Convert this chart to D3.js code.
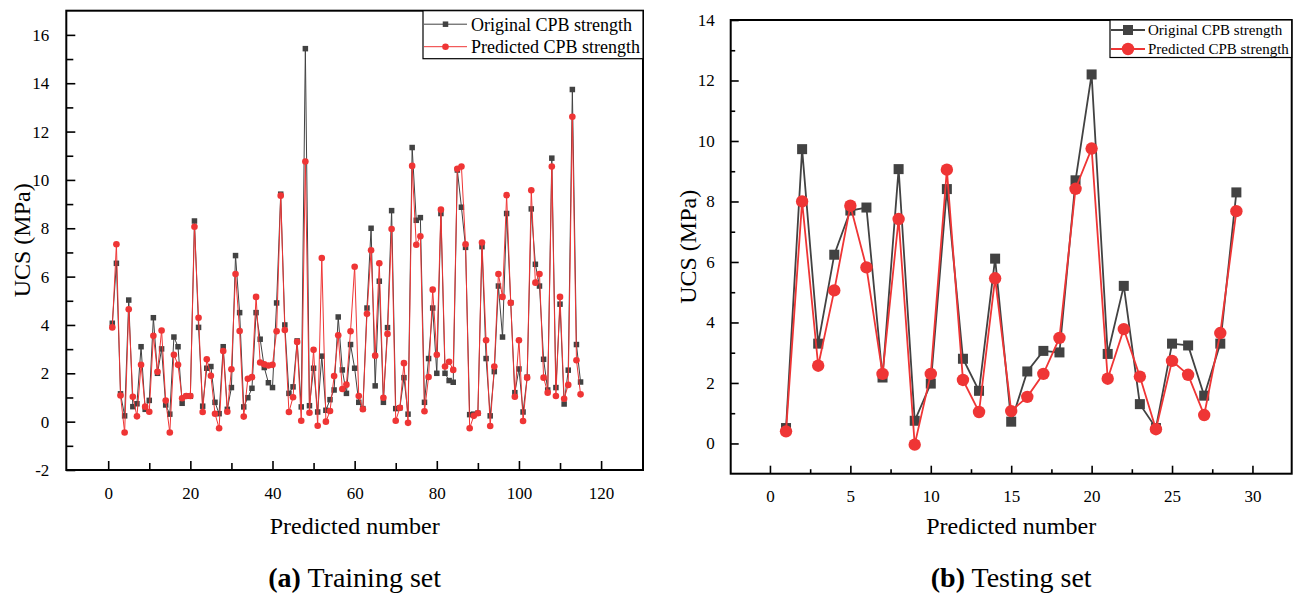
<!DOCTYPE html>
<html>
<head>
<meta charset="utf-8">
<script src="https://cdn.jsdelivr.net/npm/d3@7/dist/d3.min.js"></script>
<style>
  html, body { margin: 0; padding: 0; background: #fff; }
  svg text { font-family: "Liberation Serif", "Times New Roman", Times, serif; }
</style>
</head>
<body>
<svg id="chart" width="1299" height="595"></svg>
<script>
// Training set: original vs predicted CPB strength (MPa), samples 1..115
const trainOriginal = [
  4.07, 6.55, 1.15, 0.24, 5.03, 0.62, 0.74, 3.10, 0.51, 0.88,
  4.30, 2.00, 3.01, 0.69, 0.31, 3.50, 3.10, 0.76, 1.05, 1.05,
  8.30, 3.90, 0.64, 2.21, 2.28, 0.80, 0.33, 3.10, 0.51, 1.41,
  6.87, 4.51, 0.61, 0.99, 1.38, 4.51, 3.41, 2.24, 1.61, 1.41,
  4.91, 9.41, 4.00, 1.17, 1.44, 3.34, 0.61, 15.43, 0.66, 2.21,
  0.40, 2.71, 0.47, 0.91, 1.31, 4.33, 2.14, 1.17, 3.19, 2.21,
  0.80, 0.54, 4.70, 8.00, 1.48, 5.81, 0.80, 3.89, 8.73, 0.54,
  0.57, 1.82, 0.31, 11.34, 8.33, 8.44, 0.80, 2.61, 4.70, 2.00,
  8.61, 2.00, 1.70, 1.63, 10.41, 8.87, 7.21, 0.29, 0.31, 0.35,
  7.24, 2.61, 0.24, 2.07, 5.61, 3.50, 8.61, 4.92, 1.20, 2.18,
  0.40, 1.84, 8.80, 6.51, 5.61, 2.58, 1.31, 10.90, 1.41, 4.86,
  0.73, 2.13, 13.74, 3.19, 1.64
];
const trainPredicted = [
  3.90, 7.34, 1.08, -0.45, 4.65, 1.03, 0.22, 2.35, 0.62, 0.41,
  3.55, 2.06, 3.77, 0.87, -0.45, 2.77, 2.35, 0.97, 1.06, 1.06,
  8.06, 4.30, 0.40, 2.58, 1.90, 0.33, -0.27, 2.92, 0.41, 2.17,
  6.11, 3.75, 0.21, 1.77, 1.84, 5.16, 2.45, 2.37, 2.32, 2.35,
  3.74, 9.35, 3.79, 0.40, 1.01, 3.30, 0.04, 10.76, 0.37, 2.97,
  -0.17, 6.77, 0.00, 0.44, 1.89, 3.57, 1.35, 1.53, 3.74, 6.41,
  1.06, 0.51, 4.46, 7.09, 2.73, 6.55, 0.99, 3.63, 7.97, 0.04,
  0.57, 2.42, -0.05, 10.58, 7.32, 7.67, 0.43, 1.85, 5.46, 2.77,
  8.77, 2.28, 2.48, 2.14, 10.46, 10.55, 7.34, -0.27, 0.24, 0.35,
  7.41, 3.37, -0.18, 2.28, 6.11, 5.16, 9.37, 4.92, 1.03, 3.37,
  0.03, 1.82, 9.57, 5.75, 6.11, 1.82, 1.20, 10.55, 1.06, 5.16,
  0.95, 1.52, 12.61, 2.54, 1.13
];

// Testing set: samples 1..29
const testOriginal = [
  0.51, 9.73, 3.30, 6.24, 7.70, 7.80, 2.18, 9.07, 0.75, 1.98,
  8.41, 2.80, 1.74, 6.11, 0.72, 2.38, 3.06, 3.01, 8.70, 12.20,
  2.96, 5.21, 1.30, 0.51, 3.30, 3.24, 1.58, 3.30, 8.30
];
const testPredicted = [
  0.40, 8.00, 2.57, 5.06, 7.86, 5.82, 2.30, 7.42, -0.04, 2.30,
  9.05, 2.10, 1.04, 5.46, 1.07, 1.54, 2.30, 3.49, 8.42, 9.75,
  2.14, 3.78, 2.21, 0.47, 2.73, 2.27, 0.94, 3.65, 7.68
];

// Axis tick values
const trainXTicks = [0, 20, 40, 60, 80, 100, 120];
const trainXMinor = [10, 30, 50, 70, 90, 110];
const trainYTicks = [-2, 0, 2, 4, 6, 8, 10, 12, 14, 16];
const trainYMinor = [-1, 1, 3, 5, 7, 9, 11, 13, 15];
const testXTicks = [0, 5, 10, 15, 20, 25, 30];
const testXMinor = [2.5, 7.5, 12.5, 17.5, 22.5, 27.5];
const testYTicks = [0, 2, 4, 6, 8, 10, 12, 14];
const testYMinor = [1, 3, 5, 7, 9, 11, 13];

const seriesNames = ["Original CPB strength", "Predicted CPB strength"];
const GRAY = "#424242";
const RED = "#ef3535";
const SERIF = '"Liberation Serif", "Times New Roman", Times, serif';

const svg = d3.select("#chart");

function drawPanel(cfg) {
  const g = svg.append("g");
  const x = d3.scaleLinear().domain(cfg.xDomain).range([cfg.left, cfg.right]);
  const y = d3.scaleLinear().domain(cfg.yDomain).range([cfg.bottom, cfg.top]);
  const fmt = d => String(d);

  // major + minor ticks on bottom and left, pointing inward
  const xMajor = d3.axisBottom(x).tickValues(cfg.xTicks).tickSize(-cfg.tickMajor).tickPadding(cfg.tickMajor + 8).tickFormat(fmt);
  const xMinor = d3.axisBottom(x).tickValues(cfg.xMinor).tickSize(-cfg.tickMinor).tickFormat("");
  const yMajor = d3.axisLeft(y).tickValues(cfg.yTicks).tickSize(-cfg.tickMajor).tickPadding(cfg.tickMajor + 8).tickFormat(fmt);
  const yMinor = d3.axisLeft(y).tickValues(cfg.yMinor).tickSize(-cfg.tickMinor).tickFormat("");

  [xMajor, xMinor].forEach(ax => {
    g.append("g").attr("transform", `translate(0,${cfg.bottom})`).call(ax)
      .attr("font-family", SERIF).attr("font-size", 17)
      .call(s => s.select(".domain").remove());
  });
  [yMajor, yMinor].forEach(ax => {
    g.append("g").attr("transform", `translate(${cfg.left},0)`).call(ax)
      .attr("font-family", SERIF).attr("font-size", 17)
      .call(s => s.select(".domain").remove());
  });
  g.selectAll(".tick line").attr("stroke", "#000").attr("stroke-width", 1.6);
  g.selectAll(".tick text").attr("fill", "#000")
    .attr("font-family", SERIF).style("font-size", "17px");

  // plot frame
  g.append("rect")
    .attr("x", cfg.left).attr("y", cfg.top)
    .attr("width", cfg.right - cfg.left).attr("height", cfg.bottom - cfg.top)
    .attr("fill", "none").attr("stroke", "#000").attr("stroke-width", 2);

  const idx = d3.range(1, cfg.original.length + 1);
  const line = d3.line().x((d, i) => x(idx[i])).y(d => y(d));

  // original series (dark squares)
  g.append("path").datum(cfg.original).attr("d", line)
    .attr("fill", "none").attr("stroke", GRAY).attr("stroke-width", cfg.lineW);
  g.append("g").selectAll("rect").data(cfg.original).join("rect")
    .attr("x", (d, i) => x(idx[i]) - cfg.sq / 2)
    .attr("y", d => y(d) - cfg.sq / 2)
    .attr("width", cfg.sq).attr("height", cfg.sq)
    .attr("fill", GRAY);

  // predicted series (red circles)
  g.append("path").datum(cfg.predicted).attr("d", line)
    .attr("fill", "none").attr("stroke", RED).attr("stroke-width", cfg.lineW);
  g.append("g").selectAll("circle").data(cfg.predicted).join("circle")
    .attr("cx", (d, i) => x(idx[i]))
    .attr("cy", d => y(d))
    .attr("r", cfg.cr)
    .attr("fill", RED);

  // legend
  const lg = g.append("g");
  lg.append("rect")
    .attr("x", cfg.legend.x0).attr("y", cfg.top)
    .attr("width", cfg.right - cfg.legend.x0).attr("height", cfg.legend.h)
    .attr("fill", "#fff").attr("stroke", "#000").attr("stroke-width", 1.2);
  seriesNames.forEach((name, k) => {
    const cy = cfg.top + cfg.legend.rows[k];
    const col = k === 0 ? GRAY : RED;
    lg.append("line")
      .attr("x1", cfg.legend.x0 + 1).attr("x2", cfg.legend.lineEnd)
      .attr("y1", cy).attr("y2", cy)
      .attr("stroke", col).attr("stroke-width", cfg.lineW);
    const mx = (cfg.legend.x0 + 1 + cfg.legend.lineEnd) / 2;
    if (k === 0) {
      lg.append("rect").attr("x", mx - cfg.sq / 2).attr("y", cy - cfg.sq / 2)
        .attr("width", cfg.sq).attr("height", cfg.sq).attr("fill", col);
    } else {
      lg.append("circle").attr("cx", mx).attr("cy", cy).attr("r", cfg.cr).attr("fill", col);
    }
    lg.append("text")
      .attr("x", cfg.legend.textX).attr("y", cy)
      .attr("dy", "0.35em")
      .attr("font-family", SERIF)
      .style("font-size", cfg.legend.font + "px")
      .text(name);
  });

  // axis titles
  const cx = (cfg.left + cfg.right) / 2;
  g.append("text")
    .attr("transform", `translate(${cfg.yTitleX},${(cfg.top + cfg.bottom) / 2}) rotate(-90)`)
    .attr("text-anchor", "middle").attr("dy", "0.35em")
    .attr("font-family", SERIF)
    .style("font-size", "24px").text("UCS (MPa)");
  g.append("text")
    .attr("x", cx).attr("y", 526).attr("text-anchor", "middle").attr("dy", "0.35em")
    .attr("font-family", SERIF)
    .style("font-size", "24px").text("Predicted number");
  const cap = g.append("text")
    .attr("x", cx).attr("y", 577).attr("text-anchor", "middle").attr("dy", "0.35em")
    .attr("font-family", SERIF)
    .style("font-size", "28px");
  cap.append("tspan").style("font-weight", "bold").text(cfg.capLabel);
  cap.append("tspan").text(" " + cfg.capText);
}

drawPanel({
  original: trainOriginal, predicted: trainPredicted,
  xDomain: [-10.2, 130.2], yDomain: [-2, 17],
  left: 66.3, right: 643, top: 10.7, bottom: 470,
  xTicks: trainXTicks, xMinor: trainXMinor, yTicks: trainYTicks, yMinor: trainYMinor,
  tickMajor: 9, tickMinor: 7,
  lineW: 1, sq: 5.5, cr: 3.3,
  legend: { x0: 423, h: 48, rows: [13.5, 36], lineEnd: 467, textX: 471, font: 18 },
  yTitleX: 22,
  capLabel: "(a)", capText: "Training set"
});

drawPanel({
  original: testOriginal, predicted: testPredicted,
  xDomain: [-2.44, 32.44], yDomain: [-1, 14],
  left: 730.7, right: 1291.7, top: 20, bottom: 473.7,
  xTicks: testXTicks, xMinor: testXMinor, yTicks: testYTicks, yMinor: testYMinor,
  tickMajor: 8, tickMinor: 4.5,
  lineW: 1.8, sq: 10, cr: 6.2,
  legend: { x0: 1110, h: 37.5, rows: [10, 29], lineEnd: 1145, textX: 1148, font: 15 },
  yTitleX: 688,
  capLabel: "(b)", capText: "Testing set"
});
</script>
</body>
</html>
